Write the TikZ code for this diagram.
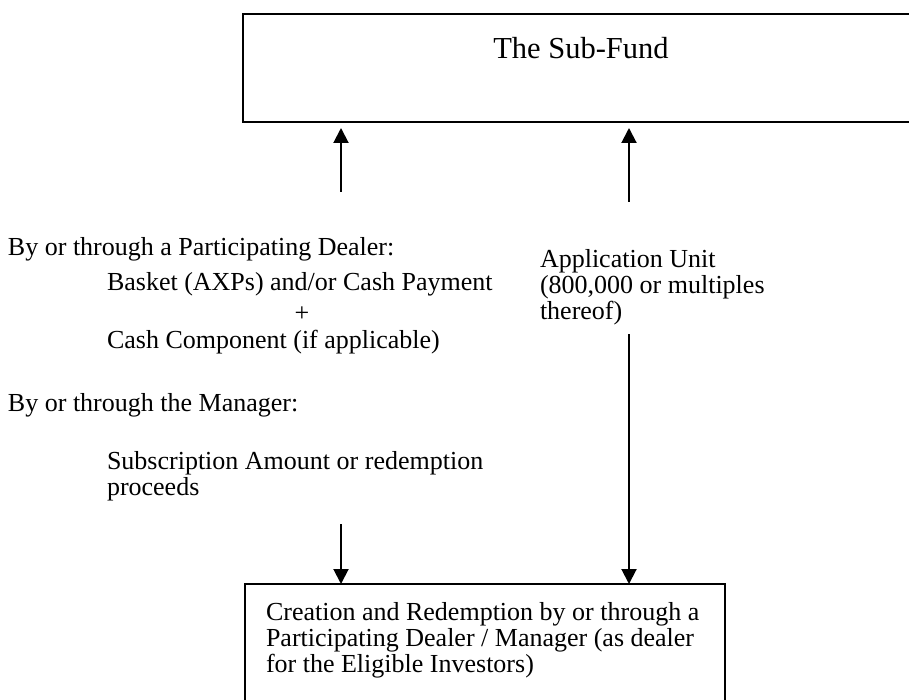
\documentclass[tikz,border=0pt]{standalone}
\usepackage{fontspec}
\setmainfont{Liberation Serif}
\usetikzlibrary{arrows.meta,calc}
\tikzset{
  txt/.style={inner sep=0pt, outer sep=0pt, anchor=base west, align=left, font=\fontsize{13pt}{13pt}\selectfont},
  boxline/.style={draw, line width=0.8pt, inner sep=0pt, outer sep=0pt, anchor=north west},
  arr/.style={line width=1pt, -{Triangle[length=7.5pt,width=7.5pt]}},
}
\begin{document}
\begin{tikzpicture}[x=0.5pt,y=-0.5pt]
\useasboundingbox (0,0) rectangle (909,700);
\clip (0,0) rectangle (909,700);
% top box (right edge lies beyond the picture)
\node[boxline, line width=1pt, minimum width=338.5pt, minimum height=54pt] (fund) at (243,14) {};
\node[inner sep=0pt, anchor=base, font=\fontsize{15.25pt}{15.25pt}\selectfont] (title) at (581,59) {The Sub-Fund};
% bottom box (bottom edge lies beyond the picture)
\node[boxline, minimum width=240pt, minimum height=70pt] (cr) at (245,584) {};
\node[txt] (crtext) at (266,672) {Creation and Redemption by or through a\\Participating Dealer / Manager (as dealer\\for the Eligible Investors)};
% left texts
\node[txt] (pd) at (8,256) {By or through a Participating Dealer:};
\node[txt] (basket) at (107,290) {Basket (AXPs) and/or Cash Payment};
\node[inner sep=0pt, anchor=base, font=\fontsize{13pt}{13pt}\selectfont] (plus) at (302,321) {+};
\node[txt] (cash) at (107,348) {Cash Component (if applicable)};
\node[txt] (mg) at (8,411) {By or through the Manager:};
\node[txt] (sub) at (107,495) {Subscription Amount or redemption\\proceeds};
% right text
\node[txt] (app) at (540,319) {Application Unit\\(800,000 or multiples\\thereof)};
% connectors
\coordinate (l1) at (341,192);
\coordinate (r1) at (629,202);
\coordinate (l2) at (341,524);
\coordinate (r2) at (629,334);
\draw[arr, shorten >=3pt] (l1) -- (l1 |- fund.south);
\draw[arr, shorten >=3pt] (r1) -- (r1 |- fund.south);
\draw[arr] (l2) -- (l2 |- cr.north);
\draw[arr] (r2) -- (r2 |- cr.north);
\end{tikzpicture}
\end{document}
